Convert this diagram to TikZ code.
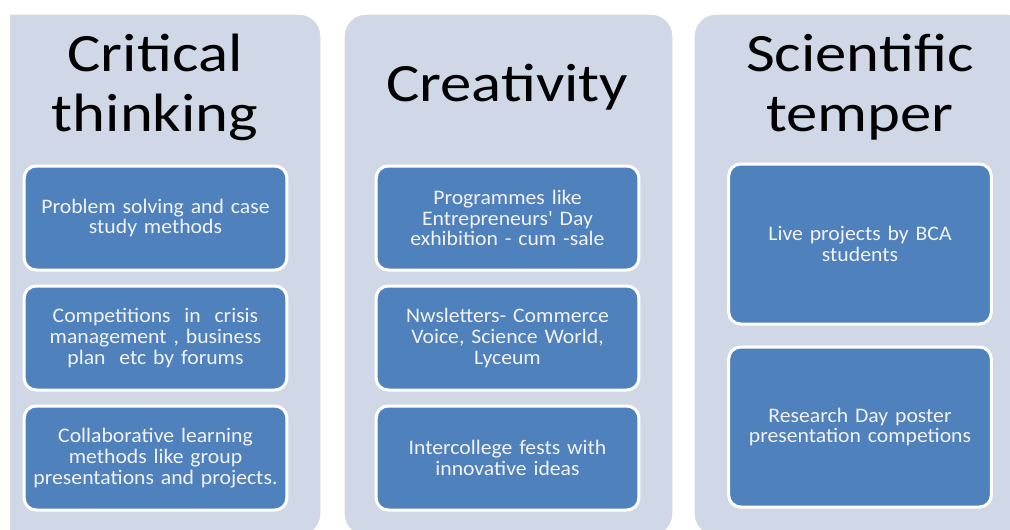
\documentclass[tikz,border=0pt]{standalone}
\usepackage{fontspec}
\setmainfont{Carlito}
\newfontfamily\headfont[FakeStretch=1.16]{Carlito}
\newfontfamily\itemfont[FakeStretch=1.05, WordSpace=0.85]{Carlito}
\usetikzlibrary{positioning}
\definecolor{colbg}{HTML}{D0D8E8}
\definecolor{boxblue}{HTML}{4F81BD}
\definecolor{boxtext}{HTML}{F2F2F2}
\tikzset{
    column/.style = {
        fill = colbg,
        draw = black!15,
        rounded corners = 16pt,
        inner sep = 0pt,
        minimum height = 390pt,
        },
    heading/.style = {
        font = \headfont\fontsize{40.5}{45}\selectfont,
        align = center,
        },
    item/.style = {
        fill = boxblue,
        draw = white,
        line width = 2.25pt,
        rounded corners = 9pt,
        text = boxtext,
        font = \itemfont\fontsize{15.5}{15.5}\selectfont,
        align = center,
        text width = 185pt,
        minimum width = 197pt,
        minimum height = 78pt,
        inner sep = 0pt,
        outer sep = 0pt,
        },
    tall item/.style = {
        minimum height = 120pt,
        },
}

\begin{document}
\begin{tikzpicture}[x=0.75pt, y=-0.75pt]
    \useasboundingbox (0,0) rectangle (1010,529);
    \begin{scope}
        \clip (10,0) rectangle (1010,529);
        \node[column, minimum width=255pt] (col1) at (150,275) {};
        \node[column, minimum width=245.25pt] (col2) at (508.5,275) {};
        \node[column, minimum width=251.25pt] (col3) at (862.5,275) {};
    \end{scope}

    % headings
    \node[heading] (crit) at (155,87) {Critical\\thinking};
    \node[heading] (crea) at (507,87) {Creativity};
    \node[heading] (sci) at (860,87) {Scientific\\temper};

    % critical thinking
    \node[item] (crit1) at (155.5,218) {Problem solving and case\\study methods};
    \node[item, below=12pt of crit1] (crit2) {Competitions\ \ in\ \ crisis\\management , business\\plan\ \ etc by forums};
    \node[item, below=12pt of crit2] (crit3) {Collaborative learning\\methods like group\\presentations and projects.};

    % creativity
    \node[item] (crea1) at (507.5,218) {Programmes like\\Entrepreneurs' Day\\exhibition - cum -sale};
    \node[item, below=12pt of crea1] (crea2) {Nwsletters- Commerce\\Voice, Science World,\\Lyceum};
    \node[item, below=12pt of crea2] (crea3) {Intercollege fests with\\innovative ideas};

    % scientific temper
    \node[item, tall item] (sci1) at (860,244) {Live projects by BCA\\students};
    \node[item, tall item, below=17.25pt of sci1] (sci2) {Research Day poster\\presentation competions};
\end{tikzpicture}
\end{document}
